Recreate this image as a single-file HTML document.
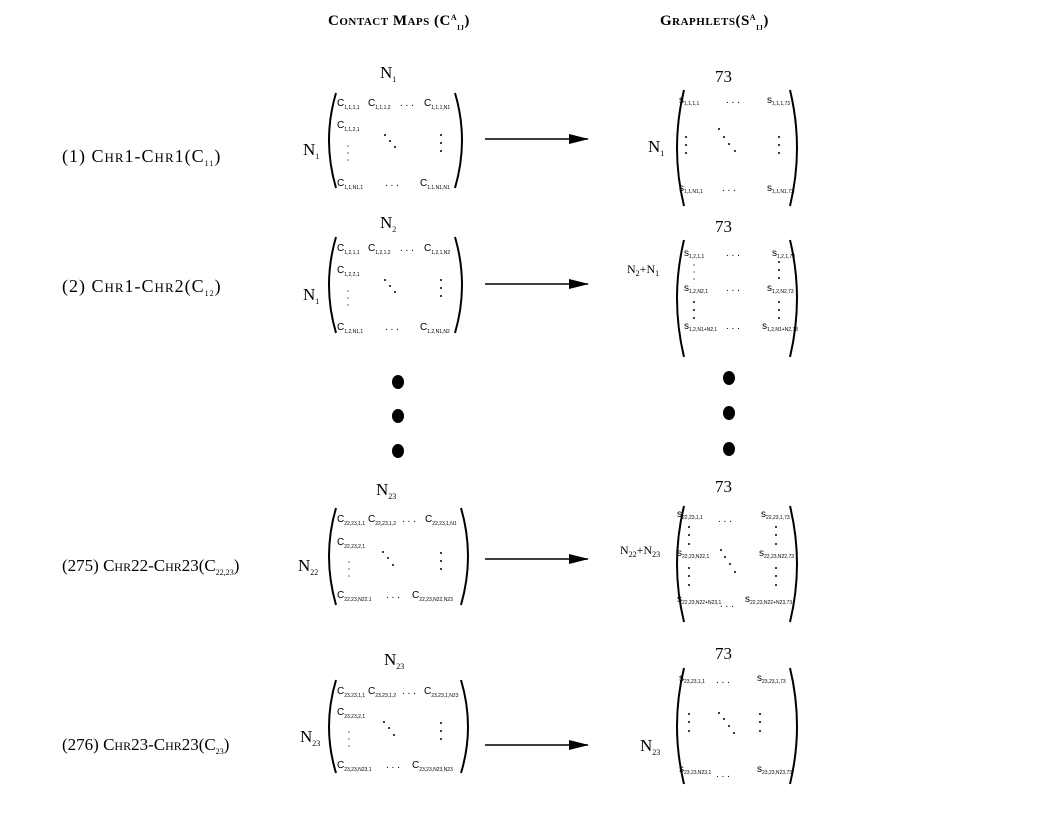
<!DOCTYPE html>
<html><head><meta charset="utf-8"><style>
body{margin:0;background:#fff}
svg{display:block}
text{font-family:"Liberation Serif",serif;fill:#000}
.h{font-weight:bold;font-variant:small-caps;font-size:15px;letter-spacing:0.5px}
.lab{font-size:17px;font-variant:small-caps}
.lab2{font-size:18px;font-variant:small-caps;letter-spacing:1px}
.el{font-size:10px;font-family:"Liberation Sans",sans-serif}
.sub{font-size:5px;font-family:"Liberation Sans",sans-serif}
.n{font-size:17px}
.ns{font-size:8px}
.p{fill:none;stroke:#000;stroke-width:2}
</style></head><body>
<svg width="1056" height="816" viewBox="0 0 1056 816" xmlns="http://www.w3.org/2000/svg">
<defs><marker id="b" markerWidth="20" markerHeight="10" refX="19" refY="5" orient="auto" markerUnits="userSpaceOnUse"><path d="M0,0 L20,5 L0,10Z" fill="#000"/></marker></defs>

<text class="h" x="328" y="25">Contact Maps (C<tspan font-size="8" dy="-5">A</tspan><tspan font-size="7" dy="10">IJ</tspan><tspan dy="-5">)</tspan></text>
<text class="h" x="660" y="25">Graphlets(S<tspan font-size="8" dy="-5">A</tspan><tspan font-size="7" dy="10">IJ</tspan><tspan dy="-5">)</tspan></text>

<text class="lab2" x="62" y="162">(1) Chr1-Chr1(C<tspan font-size="8" dy="4">11</tspan><tspan dy="-4">)</tspan></text>
<text class="lab2" x="62" y="292">(2) Chr1-Chr2(C<tspan font-size="8" dy="4">12</tspan><tspan dy="-4">)</tspan></text>
<text class="lab" x="62" y="571">(275) Chr22-Chr23(C<tspan font-size="8" dy="4">22,23</tspan><tspan dy="-4">)</tspan></text>
<text class="lab" x="62" y="750">(276) Chr23-Chr23(C<tspan font-size="8" dy="4">23</tspan><tspan dy="-4">)</tspan></text>

<g stroke="#000" stroke-width="1.5" fill="none">
<line x1="485" y1="139" x2="588" y2="139" marker-end="url(#b)"/>
<line x1="485" y1="284" x2="588" y2="284" marker-end="url(#b)"/>
<line x1="485" y1="559" x2="588" y2="559" marker-end="url(#b)"/>
<line x1="485" y1="745" x2="588" y2="745" marker-end="url(#b)"/>
</g>

<g fill="#000">
<ellipse cx="398" cy="382" rx="6" ry="7"/><ellipse cx="398" cy="416" rx="6" ry="7"/><ellipse cx="398" cy="451" rx="6" ry="7"/>
<ellipse cx="729" cy="378" rx="6" ry="7"/><ellipse cx="729" cy="413" rx="6" ry="7"/><ellipse cx="729" cy="449" rx="6" ry="7"/>
</g>

<text class="n" x="380" y="78">N<tspan class="ns" dy="4">1</tspan></text>
<text class="n" x="303" y="155">N<tspan class="ns" dy="4">1</tspan></text>
<path class="p" d="M336 93 Q322 140 336 188"/><path class="p" d="M455 93 Q469 140 455 188"/>
<text class="el" x="337" y="106">C<tspan class="sub" dy="3">1,1,1,1</tspan></text>
<text class="el" x="368" y="106">C<tspan class="sub" dy="3">1,1,1,2</tspan></text>
<text class="el" x="400" y="106">. . .</text>
<text class="el" x="424" y="106">C<tspan class="sub" dy="3">1,1,1,N1</tspan></text>
<text class="el" x="337" y="128">C<tspan class="sub" dy="3">1,1,2,1</tspan></text>
<text class="el" x="337" y="186">C<tspan class="sub" dy="3">1,1,N1,1</tspan></text>
<text class="el" x="385" y="186">. . .</text>
<text class="el" x="420" y="186">C<tspan class="sub" dy="3">1,1,N1,N1</tspan></text>
<g fill="#000"><circle cx="348" cy="146" r=".6"/><circle cx="348" cy="153" r=".6"/><circle cx="348" cy="160" r=".6"/>
<circle cx="385" cy="135" r="1"/><circle cx="390" cy="141" r="1"/><circle cx="395" cy="147" r="1"/>
<circle cx="441" cy="135" r="1"/><circle cx="441" cy="143" r="1"/><circle cx="441" cy="151" r="1"/></g>

<text class="n" x="380" y="228">N<tspan class="ns" dy="4">2</tspan></text>
<text class="n" x="303" y="300">N<tspan class="ns" dy="4">1</tspan></text>
<path class="p" d="M336 237 Q322 285 336 333"/><path class="p" d="M455 237 Q469 285 455 333"/>
<text class="el" x="337" y="251">C<tspan class="sub" dy="3">1,2,1,1</tspan></text>
<text class="el" x="368" y="251">C<tspan class="sub" dy="3">1,2,1,2</tspan></text>
<text class="el" x="400" y="251">. . .</text>
<text class="el" x="424" y="251">C<tspan class="sub" dy="3">1,2,1,N2</tspan></text>
<text class="el" x="337" y="273">C<tspan class="sub" dy="3">1,2,2,1</tspan></text>
<text class="el" x="337" y="330">C<tspan class="sub" dy="3">1,2,N1,1</tspan></text>
<text class="el" x="385" y="330">. . .</text>
<text class="el" x="420" y="330">C<tspan class="sub" dy="3">1,2,N1,N2</tspan></text>
<g fill="#000"><circle cx="348" cy="291" r=".6"/><circle cx="348" cy="298" r=".6"/><circle cx="348" cy="305" r=".6"/>
<circle cx="385" cy="280" r="1"/><circle cx="390" cy="286" r="1"/><circle cx="395" cy="292" r="1"/>
<circle cx="441" cy="280" r="1"/><circle cx="441" cy="288" r="1"/><circle cx="441" cy="296" r="1"/></g>

<text class="n" x="376" y="495">N<tspan class="ns" dy="4">23</tspan></text>
<text class="n" x="298" y="571">N<tspan class="ns" dy="4">22</tspan></text>
<path class="p" d="M336 508 Q322 556 336 605"/><path class="p" d="M461 508 Q475 556 461 605"/>
<text class="el" x="337" y="522">C<tspan class="sub" dy="3">22,23,1,1</tspan></text>
<text class="el" x="368" y="522">C<tspan class="sub" dy="3">22,23,1,2</tspan></text>
<text class="el" x="402" y="522">. . .</text>
<text class="el" x="425" y="522">C<tspan class="sub" dy="3">22,23,1,N1</tspan></text>
<text class="el" x="337" y="545">C<tspan class="sub" dy="3">22,23,2,1</tspan></text>
<text class="el" x="337" y="598">C<tspan class="sub" dy="3">22,23,N22,1</tspan></text>
<text class="el" x="386" y="598">. . .</text>
<text class="el" x="412" y="598">C<tspan class="sub" dy="3">22,23,N22,N23</tspan></text>
<g fill="#000"><circle cx="349" cy="562" r=".6"/><circle cx="349" cy="569" r=".6"/><circle cx="349" cy="576" r=".6"/>
<circle cx="383" cy="552" r="1"/><circle cx="388" cy="558" r="1"/><circle cx="393" cy="565" r="1"/>
<circle cx="441" cy="553" r="1"/><circle cx="441" cy="561" r="1"/><circle cx="441" cy="569" r="1"/></g>

<text class="n" x="384" y="665">N<tspan class="ns" dy="4">23</tspan></text>
<text class="n" x="300" y="742">N<tspan class="ns" dy="4">23</tspan></text>
<path class="p" d="M336 680 Q322 727 336 773"/><path class="p" d="M461 680 Q475 727 461 773"/>
<text class="el" x="337" y="694">C<tspan class="sub" dy="3">23,23,1,1</tspan></text>
<text class="el" x="368" y="694">C<tspan class="sub" dy="3">23,23,1,2</tspan></text>
<text class="el" x="402" y="694">. . .</text>
<text class="el" x="424" y="694">C<tspan class="sub" dy="3">23,23,1,N23</tspan></text>
<text class="el" x="337" y="715">C<tspan class="sub" dy="3">23,23,2,1</tspan></text>
<text class="el" x="337" y="768">C<tspan class="sub" dy="3">23,23,N23,1</tspan></text>
<text class="el" x="386" y="768">. . .</text>
<text class="el" x="412" y="768">C<tspan class="sub" dy="3">23,23,N23,N23</tspan></text>
<g fill="#000"><circle cx="349" cy="732" r=".6"/><circle cx="349" cy="739" r=".6"/><circle cx="349" cy="746" r=".6"/>
<circle cx="384" cy="722" r="1"/><circle cx="389" cy="728" r="1"/><circle cx="394" cy="735" r="1"/>
<circle cx="441" cy="723" r="1"/><circle cx="441" cy="731" r="1"/><circle cx="441" cy="739" r="1"/></g>

<text class="n" x="715" y="82">73</text>
<text class="n" x="648" y="152">N<tspan class="ns" dy="4">1</tspan></text>
<path class="p" d="M684 90 Q670 148 684 206"/><path class="p" d="M790 90 Q804 148 790 206"/>
<text class="el" x="679" y="103">s<tspan class="sub" dy="2">1,1,1,1</tspan></text>
<text class="el" x="726" y="103">. . .</text>
<text class="el" x="767" y="103">s<tspan class="sub" dy="2">1,1,1,73</tspan></text>
<text class="el" x="679" y="191">s<tspan class="sub" dy="2">1,1,N1,1</tspan></text>
<text class="el" x="722" y="191">. . .</text>
<text class="el" x="767" y="191">s<tspan class="sub" dy="2">1,1,N1,73</tspan></text>
<g fill="#000"><circle cx="686" cy="137" r="1"/><circle cx="686" cy="145" r="1"/><circle cx="686" cy="153" r="1"/>
<circle cx="719" cy="129" r="1"/><circle cx="724" cy="137" r="1"/><circle cx="729" cy="144" r="1"/><circle cx="735" cy="151" r="1"/>
<circle cx="779" cy="137" r="1"/><circle cx="779" cy="145" r="1"/><circle cx="779" cy="153" r="1"/></g>

<text class="n" x="715" y="232">73</text>
<text x="627" y="273" font-size="12">N<tspan class="ns" dy="3">2</tspan><tspan dy="-3">+N</tspan><tspan class="ns" dy="3">1</tspan></text>
<path class="p" d="M684 240 Q670 298 684 357"/><path class="p" d="M790 240 Q804 298 790 357"/>
<text class="el" x="684" y="256">s<tspan class="sub" dy="2">1,2,1,1</tspan></text>
<text class="el" x="726" y="256">. . .</text>
<text class="el" x="772" y="256">s<tspan class="sub" dy="2">1,2,1,73</tspan></text>
<text class="el" x="684" y="291">s<tspan class="sub" dy="2">1,2,N2,1</tspan></text>
<text class="el" x="726" y="291">. . .</text>
<text class="el" x="767" y="291">s<tspan class="sub" dy="2">1,2,N2,73</tspan></text>
<text class="el" x="684" y="329">s<tspan class="sub" dy="2">1,2,N1+N2,1</tspan></text>
<text class="el" x="726" y="329">. . .</text>
<text class="el" x="762" y="329">s<tspan class="sub" dy="2">1,2,N1+N2,73</tspan></text>
<g fill="#000"><circle cx="694" cy="265" r=".6"/><circle cx="694" cy="272" r=".6"/><circle cx="694" cy="279" r=".6"/>
<circle cx="694" cy="302" r="1"/><circle cx="694" cy="310" r="1"/><circle cx="694" cy="318" r="1"/>
<circle cx="779" cy="262" r="1"/><circle cx="779" cy="270" r="1"/><circle cx="779" cy="278" r="1"/>
<circle cx="779" cy="302" r="1"/><circle cx="779" cy="310" r="1"/><circle cx="779" cy="318" r="1"/></g>

<text class="n" x="715" y="492">73</text>
<text x="620" y="554" font-size="12">N<tspan class="ns" dy="3">22</tspan><tspan dy="-3">+N</tspan><tspan class="ns" dy="3">23</tspan></text>
<path class="p" d="M684 506 Q670 564 684 622"/><path class="p" d="M790 506 Q804 564 790 622"/>
<text class="el" x="677" y="517">s<tspan class="sub" dy="2">22,23,1,1</tspan></text>
<text class="el" x="718" y="522">. . .</text>
<text class="el" x="761" y="517">s<tspan class="sub" dy="2">22,23,1,73</tspan></text>
<text class="el" x="677" y="556">s<tspan class="sub" dy="2">22,23,N22,1</tspan></text>
<text class="el" x="759" y="556">s<tspan class="sub" dy="2">22,23,N22,73</tspan></text>
<text class="el" x="677" y="602">s<tspan class="sub" dy="2">22,23,N22+N23,1</tspan></text>
<text class="el" x="720" y="607">. . .</text>
<text class="el" x="745" y="602">s<tspan class="sub" dy="2">22,23,N22+N23,73</tspan></text>
<g fill="#000"><circle cx="689" cy="527" r="1"/><circle cx="689" cy="535" r="1"/><circle cx="689" cy="544" r="1"/>
<circle cx="689" cy="568" r="1"/><circle cx="689" cy="576" r="1"/><circle cx="689" cy="585" r="1"/>
<circle cx="721" cy="550" r="1"/><circle cx="725" cy="557" r="1"/><circle cx="730" cy="564" r="1"/><circle cx="735" cy="572" r="1"/>
<circle cx="776" cy="527" r="1"/><circle cx="776" cy="535" r="1"/><circle cx="776" cy="544" r="1"/>
<circle cx="776" cy="568" r="1"/><circle cx="776" cy="576" r="1"/><circle cx="776" cy="585" r="1"/></g>

<text class="n" x="715" y="659">73</text>
<text class="n" x="640" y="751">N<tspan class="ns" dy="4">23</tspan></text>
<path class="p" d="M684 668 Q670 726 684 784"/><path class="p" d="M790 668 Q804 726 790 784"/>
<text class="el" x="679" y="681">s<tspan class="sub" dy="2">23,23,1,1</tspan></text>
<text class="el" x="716" y="683">. . .</text>
<text class="el" x="757" y="681">s<tspan class="sub" dy="2">23,23,1,73</tspan></text>
<text class="el" x="679" y="772">s<tspan class="sub" dy="2">23,23,N23,1</tspan></text>
<text class="el" x="716" y="777">. . .</text>
<text class="el" x="757" y="772">s<tspan class="sub" dy="2">23,23,N23,73</tspan></text>
<g fill="#000"><circle cx="689" cy="714" r="1"/><circle cx="689" cy="722" r="1"/><circle cx="689" cy="731" r="1"/>
<circle cx="719" cy="713" r="1"/><circle cx="724" cy="719" r="1"/><circle cx="729" cy="726" r="1"/><circle cx="734" cy="733" r="1"/>
<circle cx="760" cy="714" r="1"/><circle cx="760" cy="722" r="1"/><circle cx="760" cy="731" r="1"/></g>
</svg>
</body></html>
